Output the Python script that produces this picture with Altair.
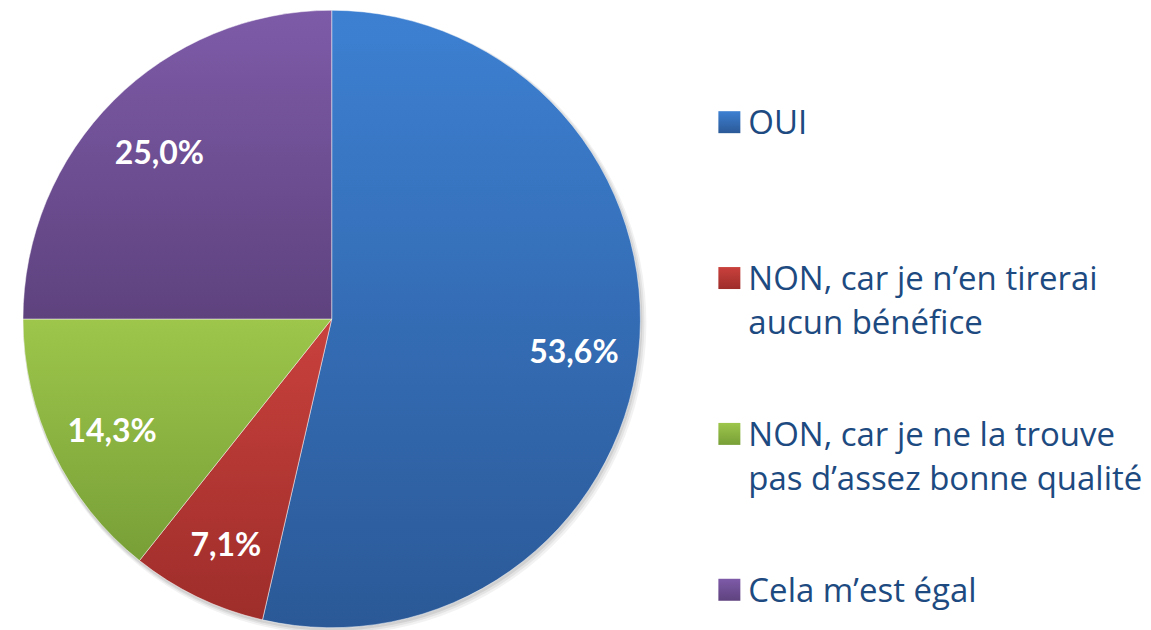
import altair as alt
import pandas as pd

categories = ["OUI",
              "NON, car je n’en tirerai aucun bénéfice",
              "NON, car je ne la trouve pas d’assez bonne qualité",
              "Cela m’est égal"]
legend_text = ["OUI",
               "NON, car je n’en tirerai\naucun bénéfice",
               "NON, car je ne la trouve\npas d’assez bonne qualité",
               "Cela m’est égal"]
values = [53.6, 7.1, 14.3, 25.0]
labels = ["53,6%", "7,1%", "14,3%", "25,0%"]
tops = ["#3d80d2", "#c9413d", "#9dc64b", "#7e5ba8"]
bottoms = ["#2b5997", "#9e2d2a", "#779f37", "#5e427e"]

df = pd.DataFrame({"idx": list(range(4)), "cat": categories, "value": values,
                   "label": labels, "legend": legend_text})


def grad(top, bottom):
    return {"gradient": "linear", "x1": 0, "y1": 0, "x2": 0, "y2": 1,
            "stops": [{"offset": 0, "color": top}, {"offset": 1, "color": bottom}]}


fill_def = {"condition": [{"test": f"datum.idx === {i}", "value": grad(tops[i], bottoms[i])}
                          for i in range(3)],
            "value": grad(tops[3], bottoms[3])}

W, H = 648, 618
R = 309
CX, CY = W / 2, H / 2

base = alt.Chart(df).encode(
    theta=alt.Theta("value:Q", stack=True, scale=alt.Scale(domain=[0, 100])),
    order=alt.Order("idx:Q"),
)

shadows = [
    base.mark_arc(radius=R + r, fill="#000000", opacity=o).encode(
        x=alt.value(CX + dx), y=alt.value(CY + dy))
    for r, dx, dy, o in [(3, 3, 4, 0.05), (2, 2, 3, 0.06), (1, 1, 2, 0.08)]
]

pie = base.mark_arc(radius=R, stroke="#ffffff", strokeWidth=0.8, strokeOpacity=0.6).encode(
    fill=fill_def
)

text = base.mark_text(radius=244, dy=7, font="Lato", fontSize=32, fontWeight="bold",
                      color="#ffffff").encode(text="label:N")

pie_chart = alt.layer(*shadows, pie, text).properties(width=W, height=H)

yscale = alt.Scale(domain=[-0.718, 3.2436], reverse=True)
leg_base = alt.Chart(df).encode(
    y=alt.Y("idx:Q", scale=yscale, axis=None)
)
squares = leg_base.mark_square(size=22 * 22, opacity=1).encode(
    x=alt.value(74), fill=fill_def
)
leg_text = leg_base.mark_text(align="left", baseline="alphabetic", dy=12,
                              font="Open Sans", fontSize=33, lineBreak="\n",
                              lineHeight=44, color="#1d4a80").encode(
    x=alt.value(93), text="legend:N"
)
legend_chart = alt.layer(squares, leg_text).properties(width=487, height=H)

chart = alt.hconcat(pie_chart, legend_chart, spacing=0).properties(
    padding=0
).configure(background="#ffffff", view=alt.ViewConfig(stroke=None))

chart.save("out.html", embed_options={"renderer": "svg", "actions": False})
